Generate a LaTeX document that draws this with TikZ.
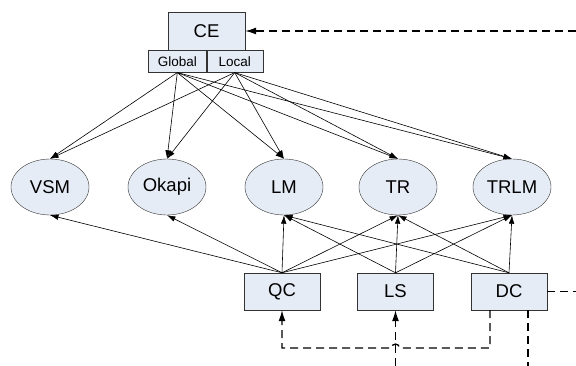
\documentclass[tikz,border=0pt]{standalone}
\usepackage{fontspec}
\setmainfont{Liberation Sans}
\usetikzlibrary{arrows.meta,positioning,shapes.geometric}
\definecolor{boxfill}{HTML}{E6ECF6}

\begin{document}
\begin{tikzpicture}[
  x=1pt, y=-1pt,
  font=\fontsize{18.5}{21}\selectfont,
  box/.style={draw=black!80, fill=boxfill, minimum width=76pt,
              minimum height=37pt, inner sep=0pt},
  tab/.style={draw=black!80, fill=boxfill, font=\fontsize{13.5}{15}\selectfont,
              minimum height=22pt, inner sep=0pt},
  est/.style={ellipse, draw=black!80, fill=boxfill, minimum width=78pt,
              minimum height=56pt, inner sep=0pt},
  ar/.style={-{Latex[length=8.5pt,width=5.5pt]}, line width=0.6pt},
  dar/.style={line width=1.3pt, dash pattern=on 8pt off 5pt},
  darr/.style={dar, -{Latex[length=11pt,width=7pt]}}
]
\useasboundingbox (0,0) rectangle (576,366);

\node[box, minimum width=77pt, minimum height=38pt] (ce) at (206.5,31) {CE};
\node[tab, minimum width=58pt, anchor=north east] (glob) at (ce.south) {Global};
\node[tab, minimum width=56pt, anchor=north west] (loc) at (ce.south) {Local};

\foreach \n/\x/\t in {vsm/50/VSM, okapi/167/Okapi, lm/284/LM, tr/398/TR, trlm/512/TRLM}
  \node[est] (\n) at (\x,187) {\t};

\node[box] (qc) at (282,291.5) {QC};
\node[box] (ls) at (395.5,291.5) {LS};
\node[box] (dc) at (509,291.5) {DC};

% context to models
\foreach \s in {glob,loc}
  \foreach \t in {vsm,okapi,lm,tr,trlm} \draw[ar] (\s.south) -- (\t.north);

% components to models
\foreach \t in {vsm,okapi,lm,tr,trlm} \draw[ar] (qc.north) -- (\t.south);
\foreach \s in {ls,dc}
  \foreach \t in {lm,tr,trlm} \draw[ar] (\s.north) -- (\t.south);

% feedback
\coordinate (ceIn) at (576,31);
\coordinate (dcOut) at (576,291.5);
\coordinate (lsIn) at (395.5,366);
\coordinate (dcDown) at (528,366);
\coordinate (hop) at (395.5,348);
\draw[darr] (ceIn) -- (ce.east);
\draw[dar] (dc.east) -- (dcOut);
\draw[darr] ([xshift=-19pt]dc.south) |- ([xshift=4pt]hop)
  arc[start angle=0, end angle=180, radius=4pt] -| (qc.south);
\draw[darr] (lsIn) -- (ls.south);
\draw[dar] ([xshift=19pt]dc.south) -- (dcDown);
\end{tikzpicture}
\end{document}
